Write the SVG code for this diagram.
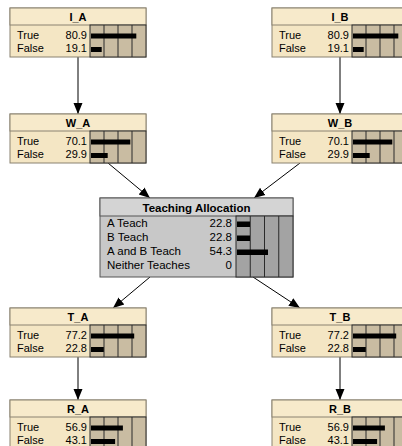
<svg xmlns="http://www.w3.org/2000/svg" width="402" height="446" viewBox="0 0 402 446">
<style>
text{font-family:"Liberation Sans",Arial,sans-serif;font-size:11px;fill:#000}
.t{font-weight:bold;text-anchor:middle}
.v{text-anchor:end}
.ta text{font-size:11.5px}
.frame{fill:#F4E6C4;stroke:#8A8270;stroke-width:1}
.title{fill:#F7EACB;stroke:#8A8270;stroke-width:1}
.area{fill:#C9BCA2;stroke:#2a2a2a;stroke-width:1}
.grid{stroke:#2a2a2a;stroke-width:1}
.bar{fill:#000}
.gframe{fill:#C8C8C8;stroke:#555;stroke-width:1}
.gtitle{fill:#D4D4D4;stroke:#555;stroke-width:1}
.garea{fill:#A3A3A3;stroke:#2a2a2a;stroke-width:1}
.edge{stroke:#000;stroke-width:1;fill:none;marker-end:url(#ah)}
</style>
<defs>
<marker id="ah" markerUnits="userSpaceOnUse" markerWidth="11" markerHeight="11" viewBox="0 0 11 11" refX="11" refY="5.5" orient="auto">
<path d="M0,1 L11,5.5 L0,10 Z" fill="#000"/>
</marker>
<g id="bin">
<rect class="frame" x="0" y="0" width="136" height="49"/>
<rect class="title" x="0" y="0" width="136" height="17"/>
<rect class="area" x="80" y="17" width="56" height="32"/>
<line class="grid" x1="94" y1="17" x2="94" y2="49"/>
<line class="grid" x1="108" y1="17" x2="108" y2="49"/>
<line class="grid" x1="122" y1="17" x2="122" y2="49"/>
<text x="7" y="30.5">True</text>
<text x="7" y="44">False</text>
</g>
</defs>

<g id="connectors">
<line class="edge" x1="78" y1="57" x2="78" y2="114"/>
<line class="edge" x1="340" y1="57" x2="340" y2="114"/>
<line class="edge" x1="108" y1="163" x2="150" y2="198"/>
<line class="edge" x1="300" y1="163" x2="254" y2="198"/>
<line class="edge" x1="150" y1="277" x2="113" y2="308"/>
<line class="edge" x1="253" y1="277" x2="300" y2="308"/>
<line class="edge" x1="78" y1="355" x2="78" y2="400"/>
<line class="edge" x1="340" y1="355" x2="340" y2="400"/>
</g>

<g id="I_A" transform="translate(10,8)">
<use href="#bin"/>
<text class="t" x="68" y="13">I_A</text>
<text class="v" x="77" y="30.5">80.9</text>
<text class="v" x="77" y="44">19.1</text>
<rect class="bar" x="81" y="25.5" width="45.3" height="5"/>
<rect class="bar" x="81" y="39" width="10.7" height="5"/>
</g>

<g id="I_B" transform="translate(272,8)">
<use href="#bin"/>
<text class="t" x="68" y="13">I_B</text>
<text class="v" x="77" y="30.5">80.9</text>
<text class="v" x="77" y="44">19.1</text>
<rect class="bar" x="81" y="25.5" width="45.3" height="5"/>
<rect class="bar" x="81" y="39" width="10.7" height="5"/>
</g>

<g id="W_A" transform="translate(10,114)">
<use href="#bin"/>
<text class="t" x="68" y="13">W_A</text>
<text class="v" x="77" y="30.5">70.1</text>
<text class="v" x="77" y="44">29.9</text>
<rect class="bar" x="81" y="25.5" width="39.3" height="5"/>
<rect class="bar" x="81" y="39" width="16.7" height="5"/>
</g>

<g id="W_B" transform="translate(272,114)">
<use href="#bin"/>
<text class="t" x="68" y="13">W_B</text>
<text class="v" x="77" y="30.5">70.1</text>
<text class="v" x="77" y="44">29.9</text>
<rect class="bar" x="81" y="25.5" width="39.3" height="5"/>
<rect class="bar" x="81" y="39" width="16.7" height="5"/>
</g>

<g id="TeachingAllocation" class="ta" transform="translate(100,198)">
<rect class="gframe" x="0" y="0" width="193" height="79"/>
<rect class="gtitle" x="0" y="0" width="193" height="18"/>
<rect class="garea" x="136" y="18" width="57" height="61"/>
<line class="grid" x1="150.25" y1="18" x2="150.25" y2="79"/>
<line class="grid" x1="164.5" y1="18" x2="164.5" y2="79"/>
<line class="grid" x1="178.75" y1="18" x2="178.75" y2="79"/>
<text class="t" x="96.5" y="14">Teaching Allocation</text>
<text x="7" y="29">A Teach</text>
<text x="7" y="43">B Teach</text>
<text x="7" y="57">A and B Teach</text>
<text x="7" y="70.5">Neither Teaches</text>
<text class="v" x="132" y="29">22.8</text>
<text class="v" x="132" y="43">22.8</text>
<text class="v" x="132" y="57">54.3</text>
<text class="v" x="132" y="70.5">0</text>
<rect class="bar" x="137" y="23.5" width="13" height="5.5"/>
<rect class="bar" x="137" y="37.5" width="13" height="5.5"/>
<rect class="bar" x="137" y="51.5" width="31" height="5.5"/>
</g>

<g id="T_A" transform="translate(10,308)">
<use href="#bin"/>
<text class="t" x="68" y="13">T_A</text>
<text class="v" x="77" y="30.5">77.2</text>
<text class="v" x="77" y="44">22.8</text>
<rect class="bar" x="81" y="25.5" width="43.2" height="5"/>
<rect class="bar" x="81" y="39" width="12.8" height="5"/>
</g>

<g id="T_B" transform="translate(272,308)">
<use href="#bin"/>
<text class="t" x="68" y="13">T_B</text>
<text class="v" x="77" y="30.5">77.2</text>
<text class="v" x="77" y="44">22.8</text>
<rect class="bar" x="81" y="25.5" width="43.2" height="5"/>
<rect class="bar" x="81" y="39" width="12.8" height="5"/>
</g>

<g id="R_A" transform="translate(10,400)">
<use href="#bin"/>
<text class="t" x="68" y="13">R_A</text>
<text class="v" x="77" y="30.5">56.9</text>
<text class="v" x="77" y="44">43.1</text>
<rect class="bar" x="81" y="25.5" width="31.9" height="5"/>
<rect class="bar" x="81" y="39" width="24.1" height="5"/>
</g>

<g id="R_B" transform="translate(272,400)">
<use href="#bin"/>
<text class="t" x="68" y="13">R_B</text>
<text class="v" x="77" y="30.5">56.9</text>
<text class="v" x="77" y="44">43.1</text>
<rect class="bar" x="81" y="25.5" width="31.9" height="5"/>
<rect class="bar" x="81" y="39" width="24.1" height="5"/>
</g>
</svg>
